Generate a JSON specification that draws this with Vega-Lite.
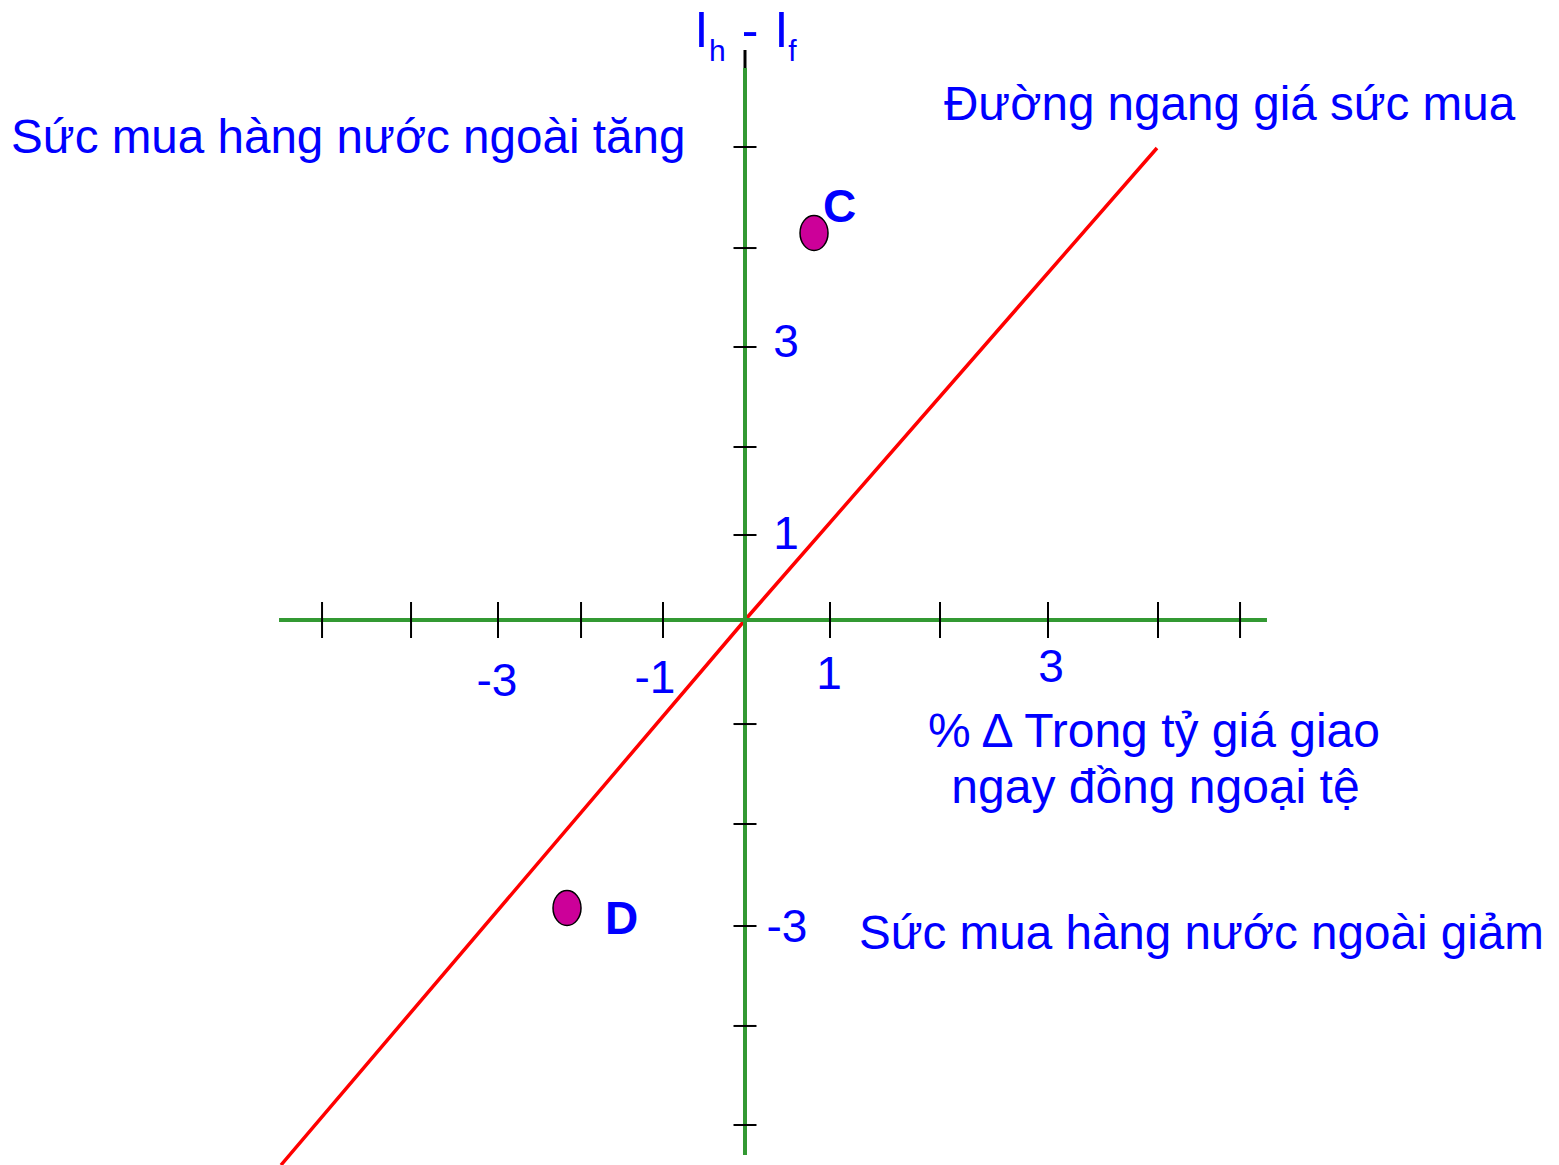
{
  "$schema": "https://vega.github.io/schema/vega-lite/v6.json",
  "width": 1559,
  "height": 1165,
  "autosize": {"type": "none"},
  "padding": 0,
  "background": "white",
  "config": {"view": {"stroke": null}},
  "datasets": {
    "axes": [
      {"seg": "x", "x": -5.482, "y": 0},
      {"seg": "x", "x": 6.141, "y": 0},
      {"seg": "y", "x": 0, "y": 6.494},
      {"seg": "y", "x": 0, "y": -6.294}
    ],
    "axisCap": [
      {"x": 0, "y": 6.706},
      {"x": 0, "y": 6.494}
    ],
    "parity": [
      {"x": -5.459, "y": -6.412},
      {"x": 0, "y": 0},
      {"x": 4.847, "y": 5.553}
    ],
    "xticks": [
      {"x": -4.976, "y": 0},
      {"x": -3.929, "y": 0},
      {"x": -2.906, "y": 0},
      {"x": -1.929, "y": 0},
      {"x": -0.965, "y": 0},
      {"x": 1.0, "y": 0},
      {"x": 2.294, "y": 0},
      {"x": 3.565, "y": 0},
      {"x": 4.859, "y": 0},
      {"x": 5.824, "y": 0}
    ],
    "yticks": [
      {"x": 0, "y": 5.565},
      {"x": 0, "y": 4.376},
      {"x": 0, "y": 3.212},
      {"x": 0, "y": 2.035},
      {"x": 0, "y": 1.0},
      {"x": 0, "y": -1.224},
      {"x": 0, "y": -2.4},
      {"x": 0, "y": -3.6},
      {"x": 0, "y": -4.776},
      {"x": 0, "y": -5.941}
    ],
    "points": [
      {"name": "C", "x": 0.812, "y": 4.553},
      {"name": "D", "x": -2.094, "y": -3.388}
    ],
    "labels": [
      {"group": "title", "text": "Sức mua hàng nước ngoài tăng", "x": -8.635, "y": 5.494},
      {"group": "title", "text": "Đường ngang giá sức mua", "x": 2.341, "y": 5.882},
      {"group": "title", "text": "Sức mua hàng nước ngoài giảm", "x": 1.341, "y": -3.871},
      {"group": "center", "text": "% Δ Trong tỷ giá giao", "x": 4.812, "y": -1.494},
      {"group": "center", "text": "ngay đồng ngoại tệ", "x": 4.829, "y": -2.153},
      {"group": "tick", "text": "-3", "x": -2.918, "y": -0.894},
      {"group": "tick", "text": "-1", "x": -1.059, "y": -0.859},
      {"group": "tick", "text": "1", "x": 0.988, "y": -0.812},
      {"group": "tick", "text": "3", "x": 3.6, "y": -0.729},
      {"group": "tick", "text": "3", "x": 0.482, "y": 3.094},
      {"group": "tick", "text": "1", "x": 0.482, "y": 0.835},
      {"group": "tick", "text": "-3", "x": 0.494, "y": -3.788},
      {"group": "point", "text": "C", "x": 0.918, "y": 4.682},
      {"group": "point", "text": "D", "x": -1.647, "y": -3.694},
      {"group": "big", "text": "I", "x": -0.512, "y": 6.741},
      {"group": "big", "text": "-", "x": 0.059, "y": 6.741},
      {"group": "big", "text": "I", "x": 0.429, "y": 6.741},
      {"group": "sub", "text": "h", "x": -0.324, "y": 6.576},
      {"group": "sub", "text": "f", "x": 0.559, "y": 6.576}
    ]
  },
  "encoding": {
    "x": {"field": "x", "type": "quantitative", "scale": {"domain": [-8.7647, 9.5765], "nice": false, "zero": false}, "axis": null},
    "y": {"field": "y", "type": "quantitative", "scale": {"domain": [-6.4118, 7.2941], "nice": false, "zero": false}, "axis": null}
  },
  "layer": [
    {
      "data": {"name": "parity"},
      "mark": {"type": "line", "color": "#FF0000", "strokeWidth": 3.5, "clip": true},
      "encoding": {}
    },
    {
      "data": {"name": "axes"},
      "mark": {"type": "line", "color": "#339933", "strokeWidth": 4},
      "encoding": {"detail": {"field": "seg", "type": "nominal"}}
    },
    {
      "data": {"name": "axisCap"},
      "mark": {"type": "line", "color": "#000000", "strokeWidth": 3},
      "encoding": {}
    },
    {
      "data": {"name": "xticks"},
      "mark": {"type": "tick", "orient": "vertical", "size": 36, "thickness": 2, "color": "#000000", "opacity": 1}
    },
    {
      "data": {"name": "yticks"},
      "mark": {"type": "tick", "orient": "horizontal", "size": 23, "thickness": 2, "color": "#000000", "opacity": 1}
    },
    {
      "data": {"name": "points"},
      "mark": {
        "type": "point",
        "shape": "M0,-1 A0.8,1 0 1,1 0,1 A0.8,1 0 1,1 0,-1 Z",
        "size": 1225,
        "filled": true,
        "fill": "#CC0099",
        "stroke": "#000000",
        "strokeWidth": 1.5,
        "opacity": 1
      }
    },
    {
      "data": {"name": "labels"},
      "transform": [{"filter": "datum.group === 'title'"}],
      "mark": {"type": "text", "align": "left", "baseline": "alphabetic", "font": "Liberation Sans", "fontSize": 47.6, "color": "#0000FF"},
      "encoding": {"text": {"field": "text"}}
    },
    {
      "data": {"name": "labels"},
      "transform": [{"filter": "datum.group === 'center'"}],
      "mark": {"type": "text", "align": "center", "baseline": "alphabetic", "font": "Liberation Sans", "fontSize": 48, "color": "#0000FF"},
      "encoding": {"text": {"field": "text"}}
    },
    {
      "data": {"name": "labels"},
      "transform": [{"filter": "datum.group === 'tick'"}],
      "mark": {"type": "text", "align": "center", "baseline": "alphabetic", "font": "Liberation Sans", "fontSize": 46, "color": "#0000FF"},
      "encoding": {"text": {"field": "text"}}
    },
    {
      "data": {"name": "labels"},
      "transform": [{"filter": "datum.group === 'point'"}],
      "mark": {"type": "text", "align": "left", "baseline": "alphabetic", "font": "Liberation Sans", "fontSize": 46, "fontWeight": "bold", "color": "#0000FF"},
      "encoding": {"text": {"field": "text"}}
    },
    {
      "data": {"name": "labels"},
      "transform": [{"filter": "datum.group === 'big'"}],
      "mark": {"type": "text", "align": "center", "baseline": "alphabetic", "font": "Liberation Sans", "fontSize": 50, "color": "#0000FF"},
      "encoding": {"text": {"field": "text"}}
    },
    {
      "data": {"name": "labels"},
      "transform": [{"filter": "datum.group === 'sub'"}],
      "mark": {"type": "text", "align": "center", "baseline": "alphabetic", "font": "Liberation Sans", "fontSize": 30, "color": "#0000FF"},
      "encoding": {"text": {"field": "text"}}
    }
  ]
}
